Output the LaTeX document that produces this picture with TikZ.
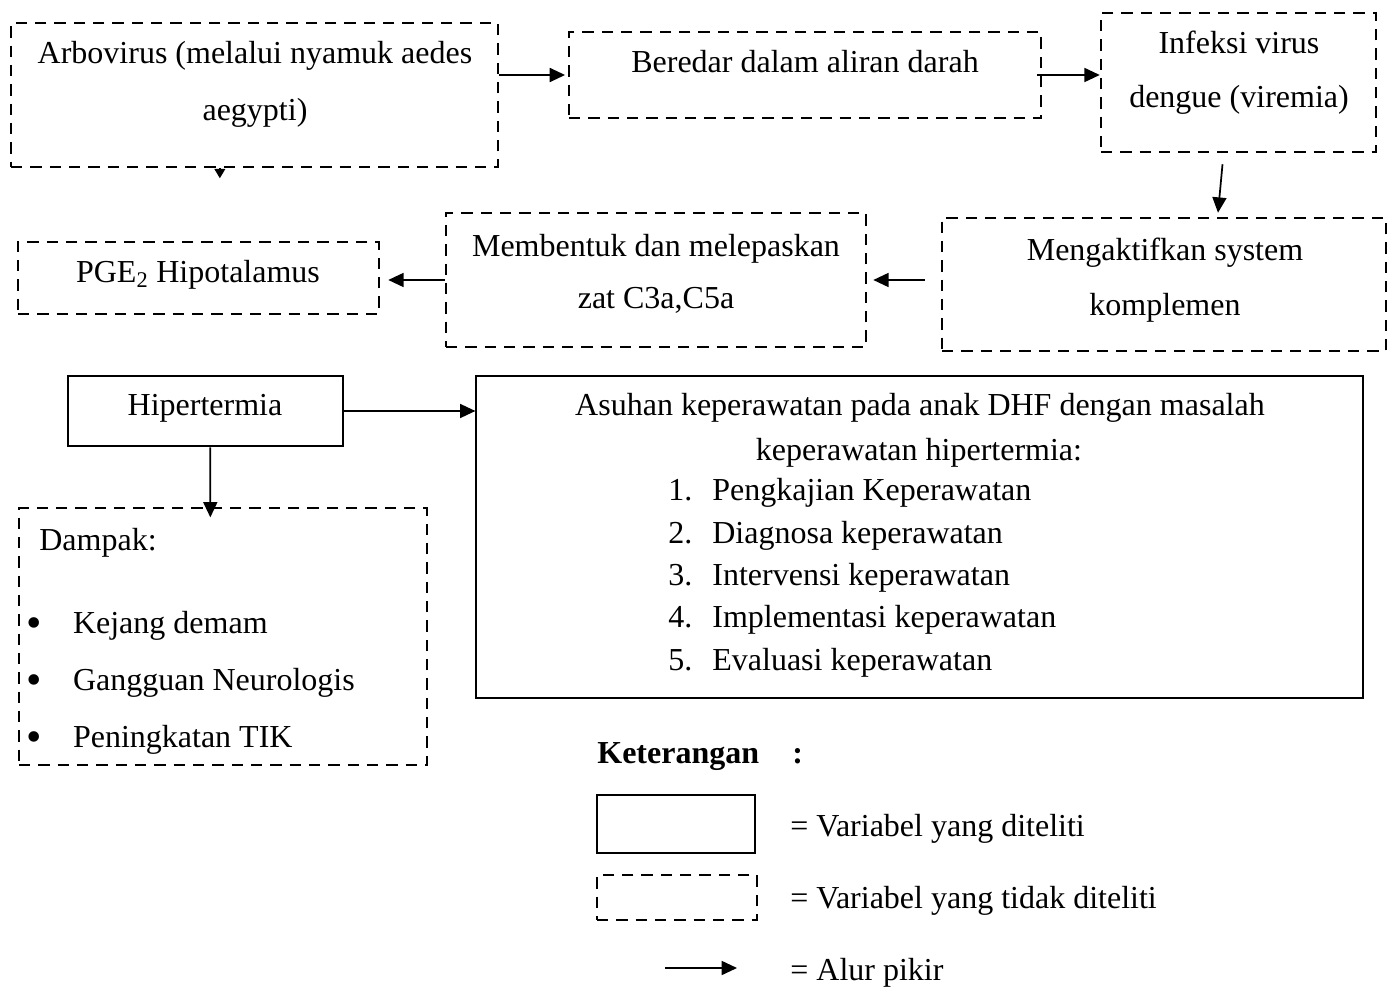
\documentclass[tikz,border=0pt]{standalone}
\usepackage{fontspec}
\setmainfont{Liberation Serif}
\usetikzlibrary{arrows.meta,fit}

\tikzset{every picture/.style={line width=0.55pt}}
\tikzset{
  tdkbox/.style={draw, dash pattern=on 8.5pt off 6pt, line width=1.9pt, inner sep=0pt},
  telitibox/.style={draw, line width=2pt, inner sep=0pt},
  alur/.style={-{Triangle[length=11.5pt,width=10.5pt]}, line width=1.3pt},
  teks/.style={inner sep=0pt, font=\fontsize{24}{41.25}\selectfont, align=center},
}
\newcommand{\butir}{\makebox[35pt][l]{\raisebox{-3pt}{\fontsize{33}{33}\selectfont\textbullet}}}

\begin{document}
\begin{tikzpicture}[x=0.75pt,y=0.75pt,yscale=-1,xscale=1]
\useasboundingbox (0,0) rectangle (1395,987);
%Shape: Rectangle [id:arbo]
\node (arbo) [tdkbox, fit={(11,23) (498,167)}] {};
% Text Node
\node (arboT) at (255,84) [teks, font=\fontsize{24}{42.75}\selectfont] {Arbovirus (melalui nyamuk aedes\\aegypti)};
%Shape: Rectangle [id:beredar]
\node (beredar) [tdkbox, fit={(569,32) (1041,118)}] {};
% Text Node
\node (beredarT) at (805,73) [teks, anchor=base] {Beredar dalam aliran darah};
%Shape: Rectangle [id:infeksi]
\node (infeksi) [tdkbox, fit={(1101,13) (1376,152)}] {};
% Text Node
\node (infeksiT) at (1239,72.5) [teks, font=\fontsize{24}{40.5}\selectfont] {Infeksi virus\\dengue (viremia)};
%Shape: Rectangle [id:aktif]
\node (aktif) [tdkbox, fit={(942,218) (1386,351)}] {};
% Text Node
\node (aktifT) at (1165,280) [teks] {Mengaktifkan system\\komplemen};
%Shape: Rectangle [id:bentuk]
\node (bentuk) [tdkbox, fit={(446,213) (866,347)}] {};
% Text Node
\node (bentukT) at (656,273.5) [teks, font=\fontsize{24}{39}\selectfont] {Membentuk dan melepaskan\\zat C3a,C5a};
%Shape: Rectangle [id:pge]
\node (pge) [tdkbox, fit={(18,242) (379,314)}] {};
% Text Node
\node (pgeT) at (198,283) [teks, anchor=base] {PGE\textsubscript{2} Hipotalamus};
%Shape: Rectangle [id:hiper]
\node (hiper) [telitibox, fit={(68,376) (343,446)}] {};
% Text Node
\node (hiperT) at (205,415) [teks, anchor=base] {Hipertermia};
%Shape: Rectangle [id:dampak]
\node (dampak) [tdkbox, fit={(19,508) (427,765)}] {};
% Text Node
\node (dampakT) at (39,550) [teks, anchor=base west] {Dampak:};
\node (dampak1) at (26,633) [teks, anchor=base west] {\butir Kejang demam};
\node (dampak2) at (26,690) [teks, anchor=base west] {\butir Gangguan Neurologis};
\node (dampak3) at (26,747) [teks, anchor=base west] {\butir Peningkatan TIK};
%Shape: Rectangle [id:asuhan]
\node (asuhan) [draw, line width=0.9pt, inner sep=0pt, fit={(476,376) (1363,698)}] {};
% Text Node
\node (asuhanT1) at (920,415) [teks, anchor=base] {Asuhan keperawatan pada anak DHF dengan masalah};
\node (asuhanT2) at (919,460) [teks, anchor=base] {keperawatan hipertermia:};
\node (asuhan1) at (668,500) [teks, anchor=base west] {\makebox[33pt][l]{1.}Pengkajian Keperawatan};
\node (asuhan2) at (668,543) [teks, anchor=base west] {\makebox[33pt][l]{2.}Diagnosa keperawatan};
\node (asuhan3) at (668,585) [teks, anchor=base west] {\makebox[33pt][l]{3.}Intervensi keperawatan};
\node (asuhan4) at (668,627) [teks, anchor=base west] {\makebox[33pt][l]{4.}Implementasi keperawatan};
\node (asuhan5) at (668,670) [teks, anchor=base west] {\makebox[33pt][l]{5.}Evaluasi keperawatan};

%Straight Lines (alur pikir)
\draw [alur] (arbo.east |- beredar.west) -- ([xshift=-2pt]beredar.west);
\draw [alur] ([xshift=-4pt]beredar.east) -- (beredar.east -| infeksi.west);
\draw [alur] ([shift={(-16,11)}]infeksi.south) -- ([shift={(54,-4)}]aktif.north);
\draw [alur] ([xshift=-12pt]aktif.west |- bentuk.east) -- ([xshift=4.5pt]bentuk.east);
\draw [alur] (bentuk.west) -- ([xshift=6pt]pge.east |- bentuk.west);
\draw [alur] ([xshift=3.5pt]hiper.south) -- ([xshift=-9.5pt,yshift=8pt]dampak.north);
\draw [alur] (hiper.east) -- (hiper.east -| asuhan.west);
\draw [-{Triangle[length=7pt,width=8pt]}, line width=1.2pt] ([xshift=-26pt]arbo.south) -- ++(0,10);

%Legend
\node (ket) at (597,763) [teks, anchor=base west, font=\fontsize{24}{30}\selectfont\bfseries] {Keterangan};
\node (ketC) at (792,763) [teks, anchor=base west, font=\fontsize{24}{30}\selectfont\bfseries] {:};
\node (lgteliti) [telitibox, fit={(597,795) (755,853)}] {};
\node (lgtelitiT) at (790,836) [teks, anchor=base west] {= Variabel yang diteliti};
\node (lgtdk) [tdkbox, fit={(597,875) (757,920)}] {};
\node (lgtdkT) at (790,908) [teks, anchor=base west] {= Variabel yang tidak diteliti};
\coordinate (lgA) at (665,968);
\coordinate (lgB) at (737,968);
\draw [alur] (lgA) -- (lgB);
\node (lgalurT) at (790,980) [teks, anchor=base west] {= Alur pikir};
\end{tikzpicture}
\end{document}
